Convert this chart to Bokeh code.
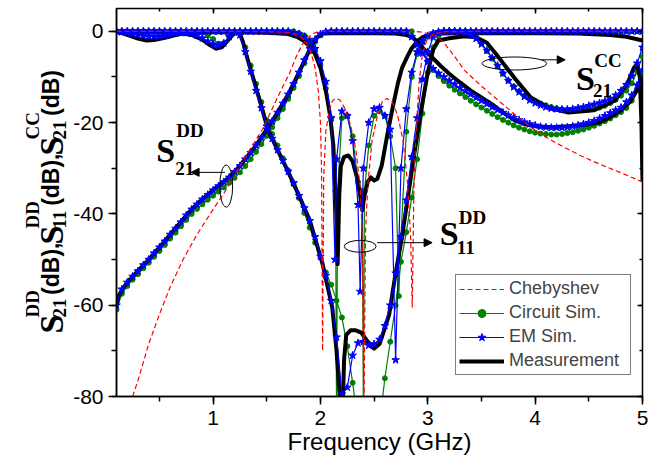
import math
from bokeh.plotting import figure
from bokeh.layouts import row
from bokeh.models import (Range1d, SingleIntervalTicker, LinearAxis, Legend, LegendItem,
                          Label, Arrow, NormalHead, CustomJSTickFormatter)
from bokeh.embed import file_html
from bokeh.resources import INLINE

# ---------------- data (frequency in GHz, magnitude in dB) ----------------
f_grid = [round(0.1 + 0.05 * i, 2) for i in range(99)]   # simulation sweep, 0.1..5 GHz

# EM simulation (blue, stars)
em_s21dd = [-60, -56.5, -55, -53.7, -52.5, -51.2, -50, -48.6, -47.3, -46,
            -44.5, -43.2, -41.8, -40.3, -39, -37.9, -36.8, -35.8, -34.8, -33.9,
            -33, -32, -30.8, -29.5, -28, -26.6, -25, -23.3, -21.5, -19.7,
            -17.8, -15.8, -13.8, -11.5, -9, -6.3, -3.8, -1.8, -0.6, -0.1,
            0, 0, 0, 0, 0, 0, 0, 0, 0, 0,
            0, 0, 0, 0, 0, -1.2, -3, -4.8, -6.7, -8.2,
            -9.2, -10, -10.8, -11.6, -12.4, -13.1, -13.8, -14.5, -15.2, -15.9,
            -16.6, -17.2, -17.8, -18.4, -18.9, -19.4, -19.9, -20.3, -20.6, -20.9,
            -21, -21.1, -21.1, -21.1, -21, -20.8, -20.6, -20.3, -20, -19.6,
            -19.1, -18.5, -17.9, -17.3, -16.7, -15.5, -14, -11.8, -8.5]
em_s11dd = [0, 0, 0, 0, 0, 0, 0, 0, 0, 0,
            0, 0, 0, 0, 0, 0, 0, 0, 0, 0,
            0, 0, 0, 0, 0, 0, 0, 0, 0, 0,
            0, 0, 0, -0.3, -0.6, -1.2, -2.2, -3.8, -6.5, -11,
            -19, -28, -17.5, -18.5, -24, -38, -30, -20, -17, -16.7,
            -18.5, -21.5, -72, -30, -17, -9, -4.5, -2.2, -1, -0.4,
            -0.1, 0, 0, 0, 0, 0, 0, 0, 0, 0,
            0, 0, 0, 0, 0, 0, 0, 0, 0, 0,
            0, 0, 0, 0, 0, 0, 0, 0, 0, 0,
            0, 0, 0, 0, 0, 0, 0, 0, 0]
em_s11dd_extra_f = [2.135, 2.37]
em_s11dd_extra_db = [-50, -57]
em_s21cc = [0, -0.15, -0.3, -0.55, -0.8, -1, -1.1, -1.15, -1.1, -0.9,
            -0.7, -0.45, -0.3, -0.35, -0.5, -0.9, -1.5, -2.2, -2.8, -3.1,
            -2.6, -1.2, -0.2, -0.8, -4.5, -8.8, -13, -16.8, -20.8, -23.5,
            -26, -28.3, -30.7, -33.2, -36, -38.7, -41.5, -45, -49.3, -53.5,
            -59, -67, -79.5, -78, -71, -68.3, -68, -68.8, -68.5, -67.5,
            -64.5, -60, -53, -45, -37, -27.5, -19, -10.5, -4.5, -1.3,
            -0.3, 0, 0, 0, -0.1, -0.3, -0.8, -1.6, -2.8, -4.2,
            -5.8, -7.5, -9.2, -10.8, -12.2, -13.3, -14.3, -15.1, -15.7, -16.2,
            -16.6, -16.9, -17, -17.1, -17.1, -17, -16.8, -16.6, -16.3, -16,
            -15.7, -15.3, -14.8, -14, -13, -11.7, -9.8, -7, -3.5]

# Circuit simulation (green, circles)
cs_s21dd = [-61, -57.5, -55.8, -54.4, -53.2, -51.9, -50.7, -49.4, -48.1, -46.8,
            -45.4, -44.1, -42.7, -41.3, -40, -38.9, -37.9, -36.9, -36, -35.1,
            -34.2, -33.2, -32.1, -30.9, -29.5, -28, -26.4, -24.7, -22.9, -21,
            -19, -17, -14.8, -12.4, -9.8, -7, -4.4, -2.3, -0.9, -0.2,
            0, 0, 0, 0, 0, 0, 0, 0, 0, 0,
            0, 0, 0, 0, 0, 0, -2.2, -4.2, -6.5, -8.5,
            -9.8, -10.9, -11.9, -12.8, -13.6, -14.4, -15.2, -16, -16.7, -17.4,
            -18.1, -18.8, -19.4, -20, -20.6, -21.1, -21.5, -21.9, -22.2, -22.4,
            -22.5, -22.6, -22.6, -22.5, -22.3, -22.1, -21.8, -21.5, -21.1, -20.7,
            -20.2, -19.7, -19.1, -18.4, -17.7, -16.8, -15.2, -12.8, -9.5]
cs_s11dd = [0, 0, 0, 0, 0, 0, 0, 0, 0, 0,
            0, 0, 0, 0, 0, 0, 0, 0, 0, 0,
            0, 0, 0, 0, 0, 0, 0, 0, 0, 0,
            0, 0, 0, 0, -0.4, -0.9, -2, -4, -7.5, -12.5,
            -19, -85, -19, -18.5, -23, -33, -85, -25, -18.5, -17.5,
            -18.5, -23, -30, -45, -22, -10, -5, -2.5, -1.2, -0.5,
            -0.2, 0, 0, 0, 0, 0, 0, 0, 0, 0,
            0, 0, 0, 0, 0, 0, 0, 0, 0, 0,
            0, 0, 0, 0, 0, 0, 0, 0, 0, 0,
            0, 0, 0, 0, 0, 0, 0, 0, 0]
cs_s11dd_extra_f = [2.14, 2.16, 2.39, 2.41, 2.73]
cs_s11dd_extra_db = [-35, -35, -35, -35, -58]
cs_s21cc = [0, 0, 0, 0, 0, 0, 0, 0, 0, 0,
            0, 0, 0, 0, 0, 0, -0.3, -0.9, -1.7, -2.7,
            -2.6, -1.3, -0.2, -0.5, -3.5, -7.5, -11.5, -15.5, -19.5, -22.5,
            -25, -27.8, -30.5, -33.5, -36.5, -39.8, -43, -46.3, -49.5, -52.8,
            -55.5, -59, -62.7, -69, -77, -86, -92, -95, -92, -86,
            -76, -68, -60, -50.5, -44, -36.4, -28, -18, -9, -3.5,
            -1, -0.2, 0, 0, 0, 0, -0.4, -1.3, -2.6, -4.3,
            -6, -7.7, -9.3, -10.8, -12.1, -13.2, -14.1, -14.8, -15.3, -15.8,
            -16.2, -16.6, -16.9, -17.1, -17.3, -17.3, -17.2, -17.1, -16.9, -16.8,
            -16.7, -16.3, -15.7, -15, -14.1, -13, -11.4, -8.8, -5.5]

# Measurement (black)
ms_s21dd_f = [0.1, 0.12, 0.16, 0.2, 0.3, 0.4, 0.5, 0.6, 0.72, 0.8,
              0.9, 1.0, 1.1, 1.2, 1.3, 1.4, 1.5, 1.6, 1.7, 1.8,
              1.86, 1.92, 1.97, 2.02, 2.1, 2.3, 2.5, 2.7, 2.8, 2.85,
              2.9, 2.96, 3.04, 3.12, 3.2, 3.3, 3.4, 3.5, 3.6, 3.7,
              3.81, 3.9, 4.0, 4.15, 4.31, 4.45, 4.59, 4.7, 4.8, 4.88,
              4.94, 4.97, 5.0]
ms_s21dd_db = [-60, -58, -56.3, -55, -52.5, -50, -47.3, -44.5, -41.2, -39,
               -36.8, -34.8, -33, -30.8, -28, -25, -21.5, -17.8, -13.8, -9,
               -6, -3, -1.3, -0.5, -0.4, -0.4, -0.4, -0.5, -0.8, -1.3,
               -2.2, -3.8, -5.7, -7.6, -9.3, -11.2, -13, -14.5, -16, -17.8,
               -19.5, -20.3, -20.8, -21, -20.8, -20.5, -20, -18.8, -17.3, -15.5,
               -13.3, -12, -10.8]
ms_s11dd_f = [0.1, 0.5, 1.0, 1.5, 1.7, 1.78, 1.84, 1.9, 1.95, 2.0,
              2.05, 2.09, 2.12, 2.145, 2.16, 2.175, 2.19, 2.22, 2.26, 2.3,
              2.34, 2.37, 2.39, 2.41, 2.44, 2.47, 2.5, 2.53, 2.57, 2.62,
              2.67, 2.72, 2.76, 2.81, 2.85, 2.9, 2.95, 3.0, 3.1, 3.3,
              3.6, 4.0, 4.4, 4.7, 4.85, 5.0]
ms_s11dd_db = [0, -0.1, -0.2, -0.3, -0.6, -1.2, -2, -3.3, -5, -8,
               -13, -18.5, -25, -38, -51, -36, -29.5, -27.5, -27.2, -28.5,
               -32, -36, -39.2, -36, -33, -32, -32.7, -32.3, -29.5, -23,
               -17, -11.5, -8, -5.5, -3.7, -2.2, -1.3, -0.8, -0.5, -0.4,
               -0.4, -0.4, -0.5, -0.8, -1.2, -2]
ms_s21cc_f = [0.1, 0.2, 0.3, 0.38, 0.45, 0.55, 0.65, 0.72, 0.8, 0.9,
              0.97, 1.03, 1.08, 1.13, 1.18, 1.22, 1.25, 1.28, 1.32, 1.37,
              1.42, 1.46, 1.51, 1.6, 1.7, 1.8, 1.9, 2.02, 2.11, 2.15,
              2.18, 2.2, 2.22, 2.24, 2.28, 2.33, 2.38, 2.44, 2.5, 2.55,
              2.6, 2.64, 2.7, 2.76, 2.81, 2.88, 2.94, 3.0, 3.05, 3.1,
              3.2, 3.34, 3.45, 3.55, 3.66, 3.81, 3.96, 4.12, 4.31, 4.55,
              4.74, 4.86, 4.92, 4.95, 4.975, 4.99, 5.0]
ms_s21cc_db = [0, -0.8, -1.6, -2, -1.9, -1.4, -0.8, -0.5, -0.8, -1.8,
               -3, -3.8, -3.5, -2.2, -0.8, -0.2, -0.5, -2.5, -6, -10,
               -14, -17.3, -21.5, -26, -30.8, -36, -41.4, -51, -60.5, -70,
               -80, -88, -72, -66.5, -65.5, -65.5, -66, -68, -69.5, -68.5,
               -65, -62, -53, -45, -37, -26, -17, -9, -4, -2,
               -1.5, -1.1, -1.3, -2.5, -5.7, -10.3, -14.5, -16.7, -17.8, -17.3,
               -15.2, -11.5, -8, -7.2, -10, -20, -33]

# Chebyshev prototype (red dashed)
ch_s21dd_f = [0.25, 0.3, 0.4, 0.5, 0.6, 0.72, 0.85, 1.0, 1.1, 1.2,
              1.3, 1.4, 1.46, 1.55, 1.63, 1.71, 1.77, 1.83, 1.88, 1.93,
              1.98, 2.02, 2.3, 2.6, 2.85, 2.92, 2.97, 3.02, 3.08, 3.15,
              3.25, 3.34, 3.5, 3.66, 3.8, 3.96, 4.1, 4.27, 4.43, 4.59,
              4.8, 5.0]
ch_s21dd_db = [-80, -76.5, -68.5, -62, -56, -50, -44.5, -39, -35.5, -31.5,
               -27.5, -23.7, -21.5, -17, -13, -9.3, -5.8, -2.9, -1.5, -0.5,
               -0.1, 0, 0, 0, 0, -0.1, -0.3, -0.6, -1, -2.5,
               -5.5, -8.5, -12, -15.2, -18, -21, -23.2, -25.4, -27.3, -29,
               -31, -33]
ch_s11dd_f = [0.1, 0.5, 1.0, 1.4, 1.6, 1.7, 1.76, 1.82, 1.87, 1.91,
              1.95, 1.98, 2.0, 2.01, 2.02, 2.03, 2.05, 2.08, 2.11, 2.14,
              2.18, 2.23, 2.28, 2.33, 2.37, 2.39, 2.405, 2.42, 2.44, 2.48,
              2.53, 2.58, 2.62, 2.67, 2.72, 2.77, 2.81, 2.84, 2.855, 2.87,
              2.89, 2.92, 2.95, 2.99, 3.05, 3.15, 3.5, 4.0, 4.5, 5.0]
ch_s11dd_db = [0, 0, 0, -0.05, -0.15, -0.3, -0.6, -1.3, -2.5, -4.5,
               -8, -13, -20, -30, -70, -32, -22, -17.5, -15.3, -14.7,
               -15, -17, -20.5, -26, -34, -45, -85, -44, -34, -24,
               -18.5, -15.2, -14.7, -15.5, -18.5, -24, -33, -45, -60.5, -35,
               -22, -11, -5, -2, -0.6, -0.1, 0, 0, 0, 0]

x_ticks_major = 1
y_ticks_major = 20
legend_labels = ["Chebyshev", "Circuit Sim.", "EM Sim.", "Measurement"]
x_title = "Frequency (GHz)"


def merged(fs, dbs, ef, edb):
    pts = sorted(list(zip(fs, dbs)) + list(zip(ef, edb)))
    return [a for a, _ in pts], [b for _, b in pts]


# ---------------- main figure ----------------
YW = 70          # width of the strip holding the y-axis title
p = figure(width=657 - YW, height=462, output_backend="svg", toolbar_location=None,
           title=None, x_range=Range1d(0.1, 5), y_range=Range1d(-80, 5),
           min_border_left=113 - YW, min_border_right=15, min_border_top=8,
           min_border_bottom=66)
p.grid.visible = False
p.background_fill_color = "white"
p.outline_line_color = "black"
p.outline_line_width = 1.5

num_fmt = CustomJSTickFormatter(code="return tick.toFixed(0)")
p.xaxis.ticker = SingleIntervalTicker(interval=x_ticks_major, num_minor_ticks=2)
p.yaxis.ticker = SingleIntervalTicker(interval=y_ticks_major, num_minor_ticks=2)
for ax in (p.xaxis[0], p.yaxis[0]):
    ax.formatter = num_fmt
    ax.axis_line_width = 1.5
    ax.major_tick_line_width = 1.5
    ax.minor_tick_line_width = 1.5
    ax.major_tick_out = 8
    ax.major_tick_in = 0
    ax.minor_tick_out = 5
    ax.minor_tick_in = 0
    ax.major_label_text_font = "Liberation Sans"
    ax.major_label_text_font_size = "21px"
    ax.major_label_text_color = "black"
p.xaxis.major_label_standoff = 6
p.yaxis.major_label_standoff = 5
p.xaxis.axis_label = x_title
p.xaxis.axis_label_text_font = "Liberation Sans"
p.xaxis.axis_label_text_font_size = "24px"
p.xaxis.axis_label_text_font_style = "normal"
p.xaxis.axis_label_text_color = "black"
p.xaxis.axis_label_standoff = 0

blank = CustomJSTickFormatter(code="return ''")
for loc, interval in (("above", x_ticks_major), ("right", y_ticks_major)):
    p.add_layout(LinearAxis(ticker=SingleIntervalTicker(interval=interval, num_minor_ticks=2),
                            formatter=blank, major_label_text_font_size="0px",
                            major_label_standoff=0, major_tick_in=5, major_tick_out=0,
                            minor_tick_in=3, minor_tick_out=0, axis_line_color=None,
                            major_tick_line_width=1.5, minor_tick_line_width=1.5), loc)

GREEN, BLUE, RED = "#008000", "#0000ff", "#ff0000"

cs_curves = [(f_grid, cs_s21dd), merged(f_grid, cs_s11dd, cs_s11dd_extra_f, cs_s11dd_extra_db),
             (f_grid, cs_s21cc)]
g_rends = []
for fx, dy in cs_curves:
    l = p.line(fx, dy, line_color=GREEN, line_width=1.2)
    s = p.scatter(fx, dy, marker="circle", size=5, fill_color=GREEN, line_color=GREEN)
    g_rends.append((l, s))

k_rends = []
for fx, dy in [(ms_s21dd_f, ms_s21dd_db), (ms_s11dd_f, ms_s11dd_db), (ms_s21cc_f, ms_s21cc_db)]:
    k_rends.append(p.line(fx, dy, line_color="black", line_width=4, line_join="round"))

em_curves = [(f_grid, em_s21dd), merged(f_grid, em_s11dd, em_s11dd_extra_f, em_s11dd_extra_db),
             (f_grid, em_s21cc)]
b_rends = []
for fx, dy in em_curves:
    l = p.line(fx, dy, line_color=BLUE, line_width=1.2)
    s = p.scatter(fx, dy, marker="star", size=8, fill_color=BLUE, line_color=BLUE)
    b_rends.append((l, s))

r_rends = []
for fx, dy in [(ch_s21dd_f, ch_s21dd_db), (ch_s11dd_f, ch_s11dd_db)]:
    r_rends.append(p.line(fx, dy, line_color=RED, line_width=1.2, line_dash="5 3"))

# ---------------- annotations inside the plot ----------------
p.ellipse(x=[1.122, 2.37, 3.807], y=[-33.9, -47.1, -7.05], width=[0.12, 0.297, 0.602],
          height=[9.2, 2.6, 2.85], fill_color=None, line_color="black", line_width=1)
for xs, ys, xe, ye in [(1.11, -30.9, 0.795, -30.9), (2.528, -46.3, 3.04, -46.3),
                       (4.057, -6.24, 4.28, -6.24)]:
    p.add_layout(Arrow(end=NormalHead(size=8, fill_color="black", line_color="black"),
                       x_start=xs, y_start=ys, x_end=xe, y_end=ye,
                       line_color="black", line_width=1))


def lab(fig, x, y, t, size, font="Liberation Serif", style="bold", **kw):
    fig.add_layout(Label(x=x, y=y, text=t, text_font=font, text_font_style=style,
                         text_font_size=size, text_color="black", text_baseline="alphabetic",
                         text_align=kw.pop("align", "left"), **kw))


for (sx, sy), (ux, uy, ut), (bx, by, bt) in [
        ((0.471, -26.1), (0.656, -21.7, "DD"), (0.647, -30.0, "21")),
        ((3.112, -44.3), (3.288, -40.8, "DD"), (3.27, -47.4, "11")),
        ((4.38, -10.3), (4.55, -6.4, "CC"), (4.54, -13.0, "21"))]:
    lab(p, sx, sy, "S", "34px")
    lab(p, ux, uy, ut, "19px")
    lab(p, bx, by, bt, "19px")

# ---------------- legend ----------------
legend = Legend(items=[LegendItem(label=legend_labels[0], renderers=[r_rends[0]]),
                       LegendItem(label=legend_labels[1], renderers=list(g_rends[0])),
                       LegendItem(label=legend_labels[2], renderers=list(b_rends[0])),
                       LegendItem(label=legend_labels[3], renderers=[k_rends[0]])],
                location=(339, 21), label_text_font="Liberation Sans",
                label_text_font_size="18px", glyph_width=45, glyph_height=20,
                label_height=20, label_width=118, spacing=3, padding=3, margin=0,
                label_standoff=5, border_line_color="black", border_line_width=1,
                background_fill_color="white", background_fill_alpha=1.0)
p.add_layout(legend)

# ---------------- y-axis title strip (pixel coordinates of the strip) ----------------
yfig = figure(width=YW, height=462, output_backend="svg", toolbar_location=None, title=None,
              x_range=Range1d(0, YW), y_range=Range1d(0, 462),
              x_axis_type=None, y_axis_type=None, min_border=0)
yfig.grid.visible = False
yfig.outline_line_color = None
rot = dict(angle=math.pi / 2)
for x, y, t, size, font in [
        (50.5, 75, "S", "34px", "Liberation Serif"),
        (32, 94, "DD", "19px", "Liberation Serif"),
        (59, 94, "21", "19px", "Liberation Serif"),
        (50, 121, "(dB), ", "23px", "Liberation Sans"),
        (50.5, 181, "S", "34px", "Liberation Serif"),
        (32, 200, "DD", "19px", "Liberation Serif"),
        (59, 200, "11", "19px", "Liberation Serif"),
        (50, 227, "(dB), ", "23px", "Liberation Sans"),
        (50.5, 287, "S", "34px", "Liberation Serif"),
        (32, 306, "CC", "19px", "Liberation Serif"),
        (59, 306, "21", "19px", "Liberation Serif"),
        (50, 334, "(dB)", "23px", "Liberation Sans")]:
    lab(yfig, x, y, t, size, font, **rot)

layout = row(yfig, p)
open("out.html", "w").write(file_html(layout, INLINE))
